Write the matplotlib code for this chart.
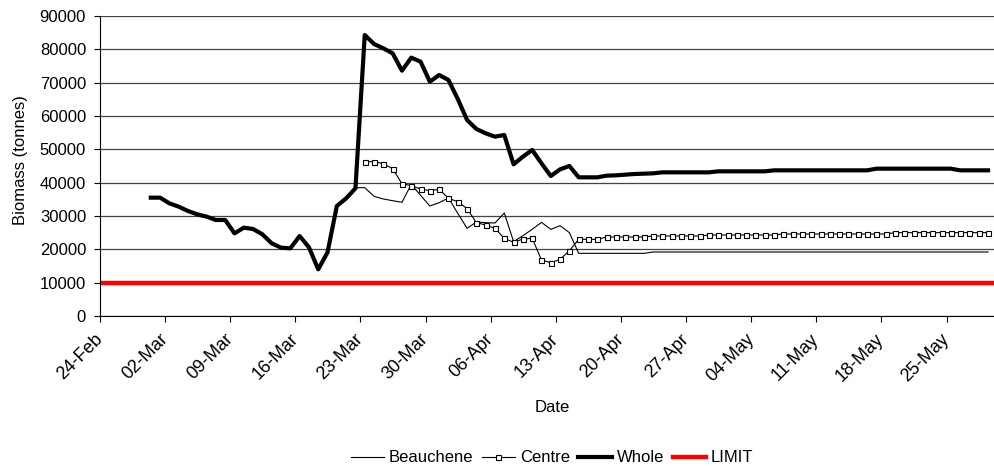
import matplotlib
matplotlib.use("Agg")
import matplotlib.pyplot as plt
import pandas as pd

plt.rcParams["font.family"] = ["Liberation Sans", "DejaVu Sans"]
plt.rcParams["font.size"] = 12

# -----------------------------
# data (daily biomass estimates, tonnes)
# -----------------------------
axis_start = "2008-02-24"
axis_end = "2008-05-31"
tick_labels = ["24-Feb", "02-Mar", "09-Mar", "16-Mar", "23-Mar", "30-Mar", "06-Apr",
               "13-Apr", "20-Apr", "27-Apr", "04-May", "11-May", "18-May", "25-May"]

whole_start = "2008-02-29"
whole = [
    35500, 35500, 33800, 32800, 31500, 30500, 29800, 28800, 28800, 24800,
    26500, 26100, 24500, 21800, 20500, 20300, 24000, 20600, 14000, 19100,
    33000, 35300, 38300,
    84300, 81600, 80300, 78800, 73600, 77500, 76300, 70300, 72300, 70800,
    65100, 58800, 56100, 54800, 53800, 54300, 45500, 47800, 49800, 45800,
    42000, 44000, 45000,
    41600, 41600, 41600, 42100, 42200, 42400, 42600, 42700, 42800,
    43100, 43100, 43100, 43100, 43100, 43100,
    43400, 43400, 43400, 43400, 43400, 43400,
    43700, 43700, 43700, 43700, 43700, 43700, 43700, 43700, 43700, 43700, 43700,
    44200, 44200, 44200, 44200, 44200, 44200, 44200, 44200, 44200,
    43700, 43700, 43700, 43700,
]

beauchene_start = "2008-03-22"
beauchene = [
    38500, 38500, 35900, 35100, 34600, 34100, 39500, 36200, 33000, 34000,
    35400, 30800, 26300, 28200, 28000, 27900, 30900, 22300, 24100, 26000,
    28100, 26000, 27100, 25000,
    18800, 18800, 18800, 18800, 18800, 18800, 18800, 18800,
    19200, 19200, 19200, 19200, 19200, 19200, 19200, 19200, 19200, 19200,
    19200, 19200, 19200, 19200, 19200, 19200, 19200, 19200, 19200, 19200,
    19200, 19200, 19200, 19200, 19200, 19200, 19200, 19200, 19200, 19200,
    19200, 19200, 19200, 19200, 19200, 19200, 19200,
]

centre_start = "2008-03-23"
centre = [
    46300, 46300, 45700, 44200, 39700, 39100, 38100, 37600, 38000, 35300,
    34300, 32200, 28000, 27300, 26300, 23300, 22100, 23100, 23300, 16800,
    16000, 17000, 19600,
    23000, 23000, 23000,
    23700, 23700, 23700, 23700, 23700,
    24000, 24000, 24000, 24000, 24000, 24000,
    24300, 24300, 24300, 24300, 24300, 24300, 24300, 24300,
    24600, 24600, 24600, 24600, 24600, 24600, 24600, 24600, 24600, 24600, 24600, 24600,
    25000, 25000, 25000, 25000, 25000, 25000, 25000, 25000, 25000, 25000, 25000,
]

limit_value = 10000

# points sit in the middle of their day, like the original spreadsheet chart
day_offset = pd.Timedelta(hours=11)

def day_index(start, values):
    return pd.date_range(start, periods=len(values), freq="D") + day_offset

x_whole = day_index(whole_start, whole)
x_beau = day_index(beauchene_start, beauchene)
x_centre = day_index(centre_start, centre)
x_limit = pd.date_range(axis_start, axis_end, freq="D")

# -----------------------------
# plot
# -----------------------------
fig = plt.figure(figsize=(9.94, 4.66), dpi=100)
ax = fig.add_axes([100 / 994, 150 / 466, 894 / 994, 300 / 466])

l_beau, = ax.plot(x_beau, beauchene, color="black", lw=0.8, label="Beauchene")
l_centre, = ax.plot(x_centre, centre, color="black", lw=0.8, marker="s", ms=3.6,
                    mfc="white", mec="black", mew=0.8, label="Centre")
l_whole, = ax.plot(x_whole, whole, color="black", lw=3.0, label="Whole")
l_limit, = ax.plot(x_limit, [limit_value] * len(x_limit), color="#ff0000", lw=3.2,
                   label="LIMIT")

ax.set_ylim(0, 90000)
ax.set_yticks(range(0, 90001, 10000))
ax.set_xlim(pd.Timestamp(axis_start), pd.Timestamp(axis_start) + pd.Timedelta(days=96.1))
tick_dates = pd.date_range(axis_start, periods=len(tick_labels), freq="7D")
ax.set_xticks(tick_dates)
ax.set_xticklabels(tick_labels, rotation=45, ha="right", va="center",
                   rotation_mode="anchor", fontsize=13)

ax.yaxis.grid(True, color="#444444", lw=0.9)
ax.set_axisbelow(True)
for side in ("top", "right"):
    ax.spines[side].set_visible(False)
ax.spines["left"].set_color("black")
ax.spines["bottom"].set_color("black")
ax.tick_params(axis="both", direction="out", length=4, width=0.8, color="black")
ax.tick_params(axis="y", pad=6)
ax.tick_params(axis="x", pad=11)

fig.text(20.5 / 994, 1 - 160 / 466, "Biomass (tonnes)", rotation=90,
         ha="center", va="center")
fig.text(552 / 994, 1 - 407 / 466, "Date", ha="center", va="center")

fig.legend(handles=[l_beau, l_centre, l_whole, l_limit], loc="center",
           bbox_to_anchor=(552 / 994, 1 - 458 / 466), ncol=4, frameon=False,
           handlelength=2.0, handletextpad=0.3, columnspacing=0.5,
           borderaxespad=0, borderpad=0)

fig.savefig("out.png", dpi=100)
